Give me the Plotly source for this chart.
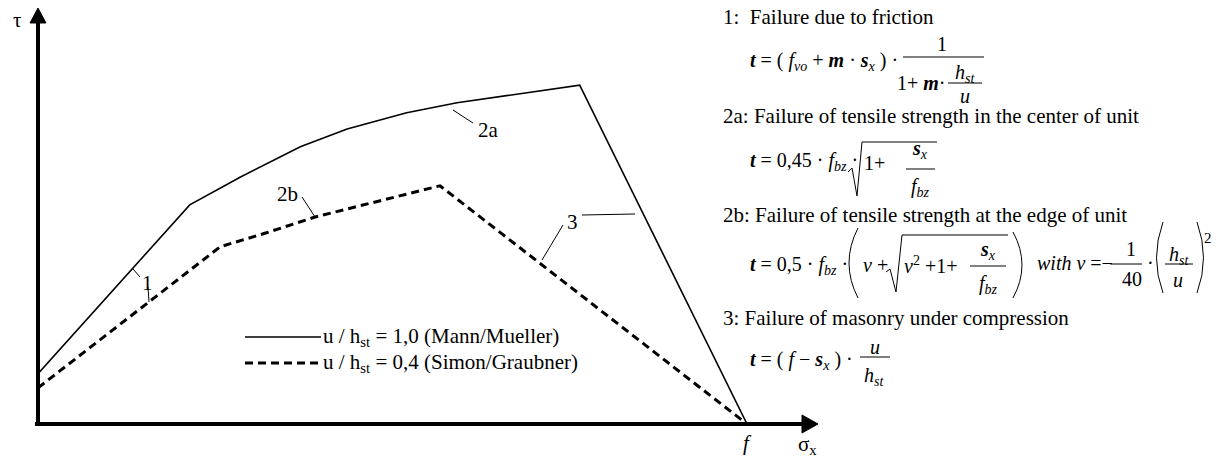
import re
import plotly.graph_objects as go

# page body has an 8px margin, so the figure is drawn 8px in from the window corner
OX, OY = 8, 8
W, H = 1225 - OX, 461 - OY
SERIF = "Liberation Serif, Times New Roman, DejaVu Serif, serif"

# sigma_x / f and tau / f (f at sigma_x = 1)
sigma_mann = [0.0, 0.214, 0.285, 0.370, 0.436, 0.520, 0.591, 0.764, 1.0]
tau_mann = [0.071, 0.309, 0.348, 0.391, 0.416, 0.439, 0.453, 0.478, 0.0]

sigma_simon = [0.0, 0.257, 0.320, 0.391, 0.567, 1.0]
tau_simon = [0.051, 0.250, 0.269, 0.292, 0.336, 0.0]

legend_mann = "u / h<sub>st</sub> = 1,0 (Mann/Mueller)"
legend_simon = "u / h<sub>st</sub> = 0,4 (Simon/Graubner)"

headings = [
    "1:  Failure due to friction",
    "2a: Failure of tensile strength in the center of unit",
    "2b: Failure of tensile strength at the edge of unit",
    "3: Failure of masonry under compression",
]

T = "<b><i>t</i></b>"
M = "<b><i>m</i></b>"
S = "<b><i>s</i></b><sub><i>x</i></sub>"
FBZ = "<i>f</i><sub><i>bz</i></sub>"
HST = "<i>h</i><sub><i>st</i></sub>"


def px(x):
    return (x - OX) / W


def py(y):
    return 1 - (y - OY) / H


fig = go.Figure()
fig.add_trace(go.Scatter(x=sigma_mann, y=tau_mann, mode="lines", name="Mann/Mueller",
                         line=dict(color="black", width=1.6), cliponaxis=False, showlegend=False))
fig.add_trace(go.Scatter(x=sigma_simon, y=tau_simon, mode="lines", name="Simon/Graubner",
                         line=dict(color="black", width=3, dash="8px,5px"), cliponaxis=False, showlegend=False))


def label(x, y, text, size=21, anchor="left"):
    fig.add_annotation(x=px(x), y=py(y), xref="paper", yref="paper", text=text, showarrow=False,
                       xanchor=anchor, yanchor="middle", borderpad=0,
                       font=dict(family=SERIF, size=size, color="black"))


def seg(x0, y0, x1, y1, width=1.0, dash=None):
    fig.add_shape(type="line", xref="paper", yref="paper", x0=px(x0), y0=py(y0), x1=px(x1), y1=py(y1),
                  line=dict(color="black", width=width, dash=dash))


def path(d, width=1.0, fill=None):
    # pixel path -> paper path
    out, k = [], 0
    for tok in re.findall(r"[A-Za-z]|-?\d+\.?\d*", d):
        if tok.isalpha():
            out.append(tok)
        else:
            v = float(tok)
            out.append(f"{px(v):.5f}" if k % 2 == 0 else f"{py(v):.5f}")
            k += 1
    fig.add_shape(type="path", xref="paper", yref="paper", path=" ".join(out),
                  line=dict(color="black", width=width), fillcolor=fill)


# axes with arrow heads
seg(35, 424, 804, 424, width=4)
path("M 802 415 L 818 424 L 802 433 Z", width=1, fill="black")
seg(38, 426, 38, 20, width=4)
path("M 30 23 L 38 8 L 46 23 Z", width=1, fill="black")
label(12, 20, "τ")
label(747, 443, "<i>f</i>", anchor="center")
label(797, 445, "σ<sub>x</sub>")

# curve labels with leader lines
label(147, 283, "1", anchor="center")
seg(133, 269, 140, 277)
seg(148, 287, 149, 302)
label(488, 130, "2a", anchor="center")
seg(453, 110, 473, 123)
label(287, 194, "2b", anchor="center")
seg(302, 197, 315, 217)
label(572, 222, "3", anchor="center")
seg(542, 260, 563, 225)
seg(582, 215, 635, 214)

# legend
seg(245, 337, 321, 337, width=1.6)
seg(245, 363, 322, 363, width=3, dash="8px,5px")
label(322, 337, legend_mann)
label(322, 363, legend_simon)

# right side: headings
for (yy, txt) in zip([17, 116, 215, 318], headings):
    label(722, yy, txt)

FS = 20
# 1: friction
label(749, 62, T + " = ( <i>f</i><sub><i>vo</i></sub> + " + M + " · " + S + " ) ·", FS)
seg(903, 57, 984, 57)
label(942, 44, "1", FS, "center")
label(947, 83, "1+ " + M + "·", FS, "right")
seg(948, 83, 982, 83)
label(965, 73, HST, FS, "center")
label(965, 96, "<i>u</i>", FS, "center")

# 2a: center of unit
label(749, 162, T + " = 0,45 · " + FBZ + " ·", FS)
path("M 848 172 L 852 168 L 857 196 L 862 142 L 937 142")
label(863, 163, "1+", FS)
label(920, 149, S, FS, "center")
seg(906, 169, 935, 169)
label(920, 187, FBZ, FS, "center")

# 2b: edge of unit
label(749, 265, T + " = 0,5 · " + FBZ + " ·", FS)
path("M 858 228 Q 840 263 858 298")
label(862, 265, "<i>v</i> +", FS)
path("M 886 272 L 890 269 L 896 292 L 902 235 L 1008 235")
label(903, 265, "<i>v</i><sup>2</sup> +1+", FS)
label(988, 251, S, FS, "center")
seg(970, 266, 1006, 266)
label(988, 284, FBZ, FS, "center")
path("M 1013 232 Q 1031 265 1013 298")
label(1036, 263, "<i>with v</i> =−", FS)
label(1131, 249, "1", FS, "center")
seg(1110, 264, 1142, 264)
label(1132, 279, "40", FS, "center")
label(1150, 263, "·", FS, "center")
path("M 1163 222 Q 1150 258 1163 293")
label(1179, 255, HST, FS, "center")
seg(1165, 264, 1193, 264)
label(1178, 280, "<i>u</i>", FS, "center")
path("M 1197 222 Q 1210 258 1197 293")
label(1203, 238, "2", 15)

# 3: compression
label(749, 360, T + " = ( <i>f</i> − " + S + " ) ·", FS)
label(875, 347, "<i>u</i>", FS, "center")
seg(860, 357, 890, 357)
label(874, 376, HST, FS, "center")

fig.update_layout(
    width=W,
    height=H,
    margin=dict(l=0, r=0, t=0, b=0),
    paper_bgcolor="white",
    plot_bgcolor="white",
    showlegend=False,
    xaxis=dict(domain=[px(38), px(818)], range=[0, 780 / 709], visible=False, fixedrange=True),
    yaxis=dict(domain=[py(424), 1], range=[0, 416 / 709], visible=False, fixedrange=True),
)

fig.write_html("out.html")
